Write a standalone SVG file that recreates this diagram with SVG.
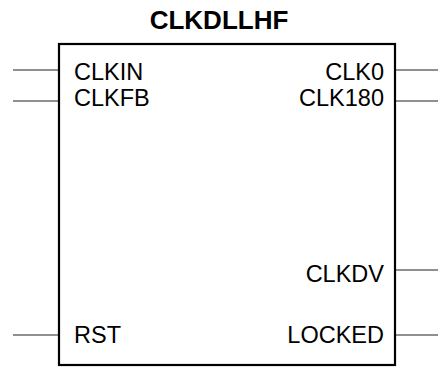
<svg xmlns="http://www.w3.org/2000/svg" width="438" height="368" viewBox="0 0 438 368">
<style>
.t{font-family:"Liberation Sans",Arial,sans-serif;font-size:23.5px;fill:#000}
.e{text-anchor:end}
.pin{stroke:#222;stroke-width:1.2;fill:none}
</style>
<rect width="438" height="368" fill="#fff"/>
<g id="title"><text x="219" y="29" text-anchor="middle" style="font-family:'Liberation Sans',Arial,sans-serif;font-size:26px;font-weight:bold">CLKDLLHF</text></g>
<g id="connectors">
<line class="pin" x1="13" y1="70" x2="59" y2="70"/>
<line class="pin" x1="13" y1="101" x2="59" y2="101"/>
<line class="pin" x1="13" y1="335" x2="59" y2="335"/>
<line class="pin" x1="395" y1="70" x2="438" y2="70"/>
<line class="pin" x1="395" y1="101" x2="438" y2="101"/>
<line class="pin" x1="395" y1="270" x2="438" y2="270"/>
<line class="pin" x1="395" y1="335" x2="438" y2="335"/>
</g>
<g id="block">
<rect x="59" y="44" width="336" height="321" fill="#fff" stroke="#000" stroke-width="2.2"/>
<text class="t" x="74" y="80">CLKIN</text>
<text class="t" x="74" y="106">CLKFB</text>
<text class="t" x="74" y="343">RST</text>
<text class="t e" x="384" y="80">CLK0</text>
<text class="t e" x="384" y="106">CLK180</text>
<text class="t e" x="384" y="282">CLKDV</text>
<text class="t e" x="384" y="343">LOCKED</text>
</g>
</svg>
